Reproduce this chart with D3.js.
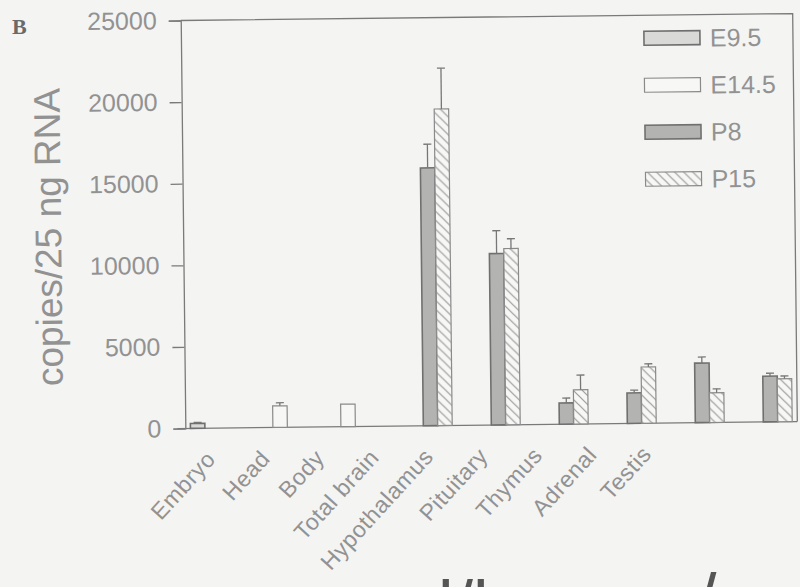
<!DOCTYPE html>
<html>
<head>
<meta charset="utf-8">
<script src="https://cdn.jsdelivr.net/npm/d3@7"></script>
<style>
  html, body { margin: 0; padding: 0; background: #f4f4f2; }
  svg { display: block; font-family: "Liberation Sans", Arial, sans-serif; }
</style>
</head>
<body>
<div id="chart"></div>
<script>
// tissues along the x axis
const tissues = ["Embryo", "Head", "Body", "Total brain", "Hypothalamus", "Pituitary", "Thymus", "Adrenal", "Testis"];
const stages = ["E9.5", "E14.5", "P8", "P15"];

// copies / 25 ng RNA, null = not measured
const e95 = [300, null, null, null, null, null, null, null, null];
const e145 = [null, 1320, 1380, null, null, null, null, null, null];
const p8 = [null, null, null, 15800, 10500, 1300, 1870, 3650, 2800];
const p15 = [null, null, null, 19400, 10800, 2100, 3450, 1820, 2630];

// upper error bars
const e95Err = [60, null, null, null, null, null, null, null, null];
const e145Err = [null, 190, 0, null, null, null, null, null, null];
const p8Err = [null, null, null, 1450, 1400, 300, 170, 370, 180];
const p15Err = [null, null, null, 2500, 600, 900, 190, 240, 170];

const yTicks = [0, 5000, 10000, 15000, 20000, 25000];

const width = 800, height = 587;
const margin = {top: 17, right: 5, bottom: 162, left: 183};
const textColor = "#929292";
const lineColor = "#7a7a7a";

let svg = d3.select("#chart").append("svg")
    .attr("width", width)
    .attr("height", height);

svg.append("rect")
    .attr("width", width)
    .attr("height", height)
    .attr("fill", "#f4f4f2");

// hatch for P15
let defs = svg.append("defs");
defs.append("pattern")
    .attr("id", "hatch")
    .attr("patternUnits", "userSpaceOnUse")
    .attr("width", 9)
    .attr("height", 9)
    .call(p => {
        p.append("rect").attr("width", 9).attr("height", 9).attr("fill", "#f7f7f5");
        p.append("path").attr("d", "M-2,-2L11,11M-2,7L2,11M7,-2L11,2")
            .attr("stroke", "#9a9a9a").attr("stroke-width", 1.2);
    });

const styles = {
    "E9.5": {fill: "#d9d9d7", stroke: "#6f6f6f", sw: 1.6},
    "E14.5": {fill: "#f7f7f5", stroke: "#8a8a8a", sw: 1.2},
    "P8": {fill: "#b3b3b1", stroke: "#707070", sw: 1.6},
    "P15": {fill: "url(#hatch)", stroke: "#8a8a8a", sw: 1.2}
};

// the scan is slightly turned
let g = svg.append("g").attr("transform", "rotate(-0.65, 490, 220)");

let x0 = d3.scaleBand()
    .domain(tissues)
    .range([margin.left, width - margin.right])
    .paddingInner(0.15)
    .paddingOuter(0.075);

let x1 = d3.scaleBand()
    .domain(stages)
    .range([0, x0.bandwidth()]);

let y = d3.scaleLinear()
    .domain([0, 25000])
    .range([height - margin.bottom, margin.top]);

// labels sit on their own spacing in the original figure
let xLabel = d3.scalePoint()
    .domain(tissues)
    .range([214, 650]);

// frame top + right
g.append("path")
    .attr("d", `M${margin.left},${margin.top}H${width - margin.right}V${y(0)}`)
    .attr("fill", "none")
    .attr("stroke", lineColor)
    .attr("stroke-width", 1.3);

// y axis
let yAxis = g.append("g")
    .attr("transform", `translate(${margin.left},0)`)
    .call(d3.axisLeft(y).tickValues(yTicks).tickSize(12).tickPadding(12).tickFormat(d3.format("d")));
yAxis.select(".domain").attr("stroke", lineColor).attr("stroke-width", 1.3);
yAxis.selectAll(".tick line").attr("stroke", lineColor).attr("stroke-width", 1.3);
yAxis.selectAll(".tick text")
    .attr("fill", textColor)
    .attr("font-size", 25)
    .attr("font-family", "Liberation Sans, Arial, sans-serif");

// x baseline
g.append("line")
    .attr("x1", margin.left - 8)
    .attr("x2", width - margin.right)
    .attr("y1", y(0))
    .attr("y2", y(0))
    .attr("stroke", lineColor)
    .attr("stroke-width", 1.3);

// bars
let seriesData = [
    {stage: "E9.5", vals: e95, errs: e95Err},
    {stage: "E14.5", vals: e145, errs: e145Err},
    {stage: "P8", vals: p8, errs: p8Err},
    {stage: "P15", vals: p15, errs: p15Err}
];

let bars = [];
seriesData.forEach(s => {
    s.vals.forEach((v, i) => {
        if (v !== null) bars.push({tissue: tissues[i], stage: s.stage, value: v, err: s.errs[i]});
    });
});

let barG = g.append("g");
barG.selectAll("rect")
    .data(bars)
    .join("rect")
    .attr("x", d => x0(d.tissue) + x1(d.stage))
    .attr("y", d => y(d.value))
    .attr("width", x1.bandwidth())
    .attr("height", d => y(0) - y(d.value))
    .attr("fill", d => styles[d.stage].fill)
    .attr("stroke", d => styles[d.stage].stroke)
    .attr("stroke-width", d => styles[d.stage].sw);

// error bars, upper side only
let errG = g.append("g").attr("stroke", "#777").attr("stroke-width", 1.3);
bars.filter(d => d.err).forEach(d => {
    let cx = x0(d.tissue) + x1(d.stage) + x1.bandwidth() / 2;
    errG.append("line")
        .attr("x1", cx).attr("x2", cx)
        .attr("y1", y(d.value)).attr("y2", y(d.value + d.err));
    errG.append("line")
        .attr("x1", cx - 4).attr("x2", cx + 4)
        .attr("y1", y(d.value + d.err)).attr("y2", y(d.value + d.err));
});

// x labels
g.append("g")
    .selectAll("text")
    .data(tissues)
    .join("text")
    .attr("transform", d => `translate(${xLabel(d)},457) rotate(-47)`)
    .attr("text-anchor", "end")
    .attr("fill", textColor)
    .attr("font-size", 23)
    .attr("letter-spacing", 0.6)
    .text(d => d);

// y title
g.append("text")
    .attr("transform", "translate(61,232) rotate(-90)")
    .attr("text-anchor", "middle")
    .attr("fill", textColor)
    .attr("font-size", 37)
    .text("copies/25 ng RNA");

// legend
let legend = g.append("g").attr("transform", "translate(646,40)");
legend.selectAll("g")
    .data(stages)
    .join("g")
    .attr("transform", (d, i) => `translate(0,${i * 47})`)
    .each(function (d) {
        let item = d3.select(this);
        item.append("rect")
            .attr("x", 0).attr("y", -7)
            .attr("width", 56).attr("height", 14)
            .attr("fill", styles[d].fill)
            .attr("stroke", styles[d].stroke)
            .attr("stroke-width", styles[d].sw);
        item.append("text")
            .attr("x", 66).attr("y", 0)
            .attr("dy", "0.36em")
            .attr("fill", textColor)
            .attr("font-size", 25)
            .text(d);
    });

// panel letter
svg.append("text")
    .attr("x", 12).attr("y", 34)
    .attr("font-family", "Liberation Serif, serif")
    .attr("font-weight", "bold")
    .attr("font-size", 22)
    .attr("fill", "#6a6a6a")
    .text("B");

// tops of the next caption line, cut by the page edge
svg.append("text")
    .attr("x", 438).attr("y", 630)
    .attr("font-size", 70)
    .attr("fill", "#555")
    .text("l/l");
svg.append("text")
    .attr("x", 697).attr("y", 623)
    .attr("font-size", 70)
    .attr("fill", "#555")
    .text("/");
</script>
</body>
</html>
